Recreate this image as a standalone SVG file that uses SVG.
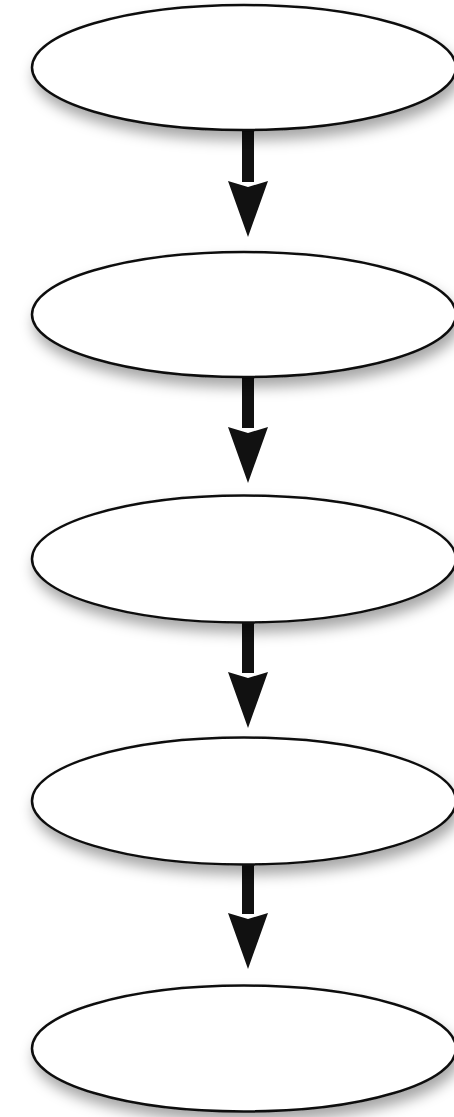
<svg xmlns="http://www.w3.org/2000/svg" width="454" height="1117" viewBox="0 0 454 1117">
  <defs>
    <filter id="shadow" x="-20%" y="-30%" width="140%" height="170%">
      <feDropShadow dx="3" dy="9" stdDeviation="7" flood-color="#000" flood-opacity="0.35"/>
    </filter>
    <marker id="head" markerUnits="userSpaceOnUse" viewBox="0 0 56 40" markerWidth="56" markerHeight="40" refX="1" refY="20" orient="auto">
      <path d="M0,0 L56,20 L0,40 L6,20 Z" fill="#111"/>
    </marker>
    <style>
      .node ellipse { fill: #fff; stroke: #111; stroke-width: 2.5; filter: url(#shadow); }
      .conn line { stroke: #111; stroke-width: 12; marker-end: url(#head); }
    </style>
  </defs>
  <rect width="454" height="1117" fill="#fff"/>
  <g id="connectors" class="conn">
    <line x1="248" y1="129" x2="248" y2="182"/>
    <line x1="248" y1="376" x2="248" y2="428"/>
    <line x1="248" y1="622" x2="248" y2="673"/>
    <line x1="248" y1="864" x2="248" y2="914"/>
  </g>
  <g id="node1" class="node"><ellipse cx="244" cy="67.5" rx="212" ry="62.5"/></g>
  <g id="node2" class="node"><ellipse cx="244" cy="314.5" rx="212" ry="62.5"/></g>
  <g id="node3" class="node"><ellipse cx="244" cy="559" rx="212" ry="63.5"/></g>
  <g id="node4" class="node"><ellipse cx="244" cy="801" rx="212" ry="63.5"/></g>
  <g id="node5" class="node"><ellipse cx="244" cy="1048.5" rx="212" ry="63"/></g>
</svg>
